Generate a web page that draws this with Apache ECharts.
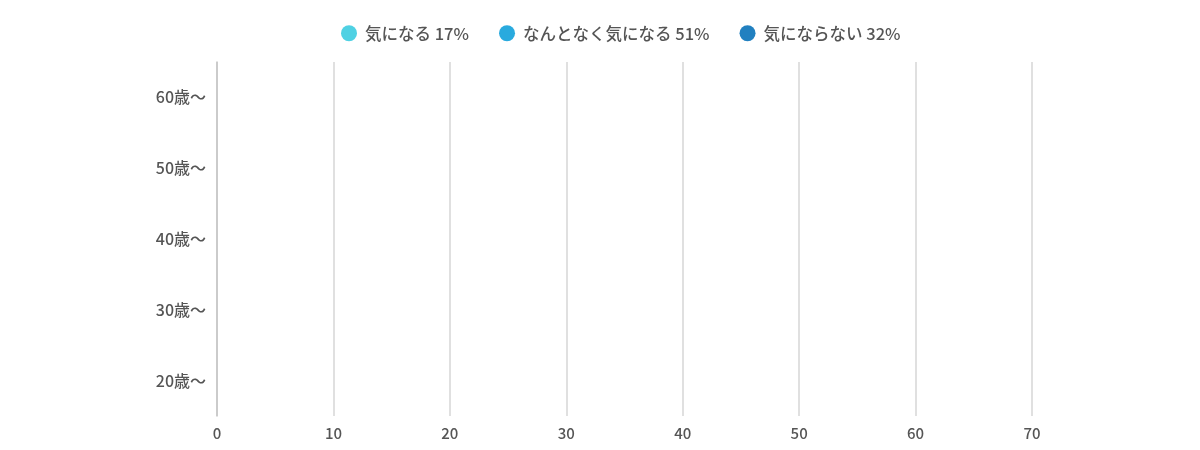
<!DOCTYPE html>
<html>
<head>
<meta charset="utf-8">
<script src="https://cdn.jsdelivr.net/npm/echarts@6/dist/echarts.min.js"></script>
<style>
html,body{margin:0;padding:0;background:#fff;}
#main{width:1200px;height:450px;}
</style>
</head>
<body>
<div id="main"></div>
<script>
const categories = ['20歳〜', '30歳〜', '40歳〜', '50歳〜', '60歳〜'];
const seriesNames = ['気になる 17%', 'なんとなく気になる 51%', '気にならない 32%'];
// Bars are not visible in the reference (rendered at zero length)
const kininaru = [0, 0, 0, 0, 0];
const nantonaku = [0, 0, 0, 0, 0];
const kininaranai = [0, 0, 0, 0, 0];
const xTicks = [0, 10, 20, 30, 40, 50, 60, 70];
const colors = ['#4fd1e3', '#29aade', '#2180c0'];

const chart = echarts.init(document.getElementById('main'));
const font = '"Noto Sans CJK JP", "Noto Sans", sans-serif';
const seriesData = [kininaru, nantonaku, kininaranai];
chart.setOption({
  animation: false,
  color: colors,
  textStyle: { fontFamily: font },
  legend: {
    top: 20,
    left: 336,
    icon: 'circle',
    itemWidth: 16,
    itemHeight: 16,
    itemGap: 30,
    textStyle: { fontSize: 16.5, color: '#555', fontWeight: 500, fontFamily: font, padding: [0, 0, 0, 3] },
    data: seriesNames
  },
  grid: { left: 217, right: 168, top: 62, bottom: 34 },
  xAxis: {
    type: 'value',
    min: xTicks[0],
    max: xTicks[xTicks.length - 1],
    interval: 10,
    axisLine: { show: false },
    axisTick: { show: false },
    axisLabel: { fontSize: 15, color: '#555', fontWeight: 500, margin: 10, fontFamily: font },
    splitLine: { show: true, lineStyle: { color: '#d6d6d6', width: 1.5 } }
  },
  yAxis: {
    type: 'category',
    data: categories,
    axisLine: { show: true, lineStyle: { color: '#c4c4c4', width: 1.5 } },
    axisTick: { show: false },
    axisLabel: { fontSize: 16, color: '#555', fontWeight: 500, margin: 11, fontFamily: font }
  },
  series: seriesNames.map((n, i) => ({
    name: n,
    type: 'bar',
    stack: 'total',
    barWidth: '50%',
    data: seriesData[i]
  }))
});
</script>
</body>
</html>
